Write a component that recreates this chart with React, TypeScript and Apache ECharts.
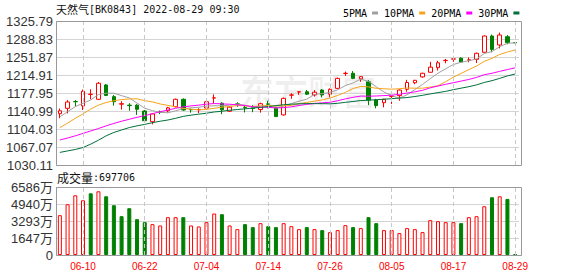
import React, { useEffect, useRef } from 'react';
import * as echarts from 'echarts';

const dates = [
  '06-07','06-08','06-09','06-10','06-13','06-14','06-15','06-16','06-17','06-20','06-21','06-22','06-23','06-24','06-27','06-28','06-29','06-30',
  '07-01','07-04','07-05','07-06','07-07','07-08','07-11','07-12','07-13','07-14','07-15','07-18','07-19','07-20','07-21','07-22','07-25','07-26','07-27','07-28','07-29',
  '08-01','08-02','08-03','08-04','08-05','08-08','08-09','08-10','08-11','08-12','08-15','08-16','08-17','08-18','08-19','08-22','08-23','08-24','08-25','08-26','08-29',
];
const tickLabels = ['06-10', '06-22', '07-04', '07-14', '07-26', '08-05', '08-17', '08-29'];

const opens = [
  1135.5, 1146.5, 1160.5, 1151.5, 1175, 1165, 1194.5, 1170.5, 1155, 1153,
  1153, 1141, 1119, 1139, 1141.5, 1150, 1165, 1144, 1143.5, 1147,
  1167.5, 1157, 1140.5, 1155.5, 1148.5, 1147, 1144, 1155.5, 1147.5, 1133,
  1173.5, 1180, 1180.5, 1174, 1184, 1175.5, 1187.5, 1218, 1218.5, 1207,
  1201, 1163.5, 1158, 1171, 1172.5, 1185.5, 1199, 1211, 1220.5, 1230,
  1244.5, 1247.5, 1249.5, 1245.5, 1247, 1261.5, 1295, 1276.5, 1293.5, 1281.5,
];
const closes = [
  1141.5, 1159.5, 1160, 1181.5, 1175.5, 1198, 1173, 1160, 1156, 1152,
  1144.5, 1121, 1135, 1138.5, 1147.5, 1165, 1143, 1143.5, 1144, 1160,
  1168, 1143.5, 1149, 1155, 1148, 1146.5, 1156, 1155, 1129.5, 1167,
  1174, 1180.5, 1175.5, 1179.5, 1174, 1185.5, 1208, 1218.5, 1208, 1211.5,
  1163.5, 1152, 1165, 1171.5, 1184, 1199.5, 1204, 1218.5, 1231, 1240,
  1245, 1248, 1241.5, 1246, 1259.5, 1295, 1267.5, 1297, 1281.5, 1281,
];
const lows = [
  1126, 1136, 1150, 1143, 1165, 1163.5, 1171.5, 1152, 1144, 1141.5,
  1133, 1119, 1113.5, 1134.5, 1138, 1148.5, 1141.5, 1137.5, 1136.5, 1144.5,
  1157, 1134.5, 1139, 1149.5, 1138, 1138.5, 1137.5, 1146.5, 1129, 1131.5,
  1166, 1174, 1174, 1170.5, 1169, 1169, 1186, 1213, 1206.5, 1201,
  1153, 1146.5, 1148.5, 1155.5, 1162, 1180.5, 1196, 1209.5, 1220, 1224,
  1239, 1242, 1240, 1241, 1239.5, 1260.5, 1261.5, 1269.5, 1278, 1280.5,
];
const highs = [
  1146, 1163.5, 1163.5, 1185, 1185.5, 1200.5, 1196.5, 1174, 1161, 1157,
  1155, 1143, 1136.5, 1142, 1149.5, 1166.5, 1167, 1146, 1146.5, 1162,
  1175, 1159, 1150.5, 1159, 1152, 1153, 1158, 1162, 1150, 1168.5,
  1177.5, 1181, 1184, 1184, 1186, 1187.5, 1209.5, 1222, 1223, 1212.5,
  1204.5, 1166, 1166, 1172.5, 1185.5, 1205, 1205, 1219.5, 1242, 1244,
  1248, 1254, 1251, 1251, 1261, 1296, 1298, 1302, 1297, 1282,
];

const ma5 = [
  1129, 1139.5, 1150, 1157, 1163.6, 1174.9, 1177.6, 1177.6, 1172.5, 1167.8,
  1157.1, 1146.7, 1141.7, 1138.2, 1137.3, 1141.4, 1145.8, 1147.5, 1148.6, 1151.1,
  1151.7, 1151.8, 1152.9, 1155.1, 1152.7, 1148.4, 1150.9, 1152.1, 1147, 1150.8,
  1156.3, 1161.2, 1165.3, 1175.3, 1176.7, 1179, 1184.5, 1193.1, 1198.8, 1206.3,
  1201.9, 1190.7, 1180, 1172.7, 1167.2, 1174.4, 1184.8, 1195.5, 1207.4, 1218.6,
  1227.7, 1236.5, 1241.1, 1244.1, 1248, 1259, 1263, 1273, 1280, 1281,
];
const ma10 = [
  1106.7, 1116, 1126, 1135, 1145, 1153, 1158.5, 1162, 1164.5, 1165.7,
  1166, 1162.2, 1159.7, 1155.4, 1152.6, 1149.3, 1146.3, 1144.6, 1143.4, 1144.2,
  1146.6, 1148.8, 1150.2, 1151.9, 1151.9, 1150.1, 1151.4, 1152.5, 1151.1, 1151.8,
  1152.4, 1156.1, 1158.7, 1161.2, 1163.8, 1167.7, 1172.9, 1179.2, 1187.1, 1191.5,
  1190.5, 1187.6, 1186.6, 1185.8, 1186.8, 1188.2, 1187.8, 1187.8, 1190.1, 1192.9,
  1201.1, 1210.7, 1218.3, 1225.8, 1233.3, 1242.9, 1249.2, 1257.1, 1262.1, 1266.2,
];
const ma20 = [
  1081.5, 1085.5, 1090, 1095, 1100, 1105, 1110.5, 1115.5, 1120, 1124,
  1128, 1131.5, 1135.5, 1139.5, 1143, 1146.5, 1149.5, 1151.5, 1153, 1155,
  1156.3, 1155.5, 1154.9, 1153.6, 1152.2, 1149.7, 1148.8, 1148.6, 1147.2, 1148,
  1149.5, 1152.4, 1154.5, 1156.5, 1157.8, 1158.9, 1162.1, 1165.9, 1169.1, 1171.6,
  1171.4, 1171.8, 1172.6, 1173.5, 1175.3, 1177.9, 1180.3, 1183.5, 1188.6, 1192.2,
  1195.8, 1199.1, 1202.4, 1205.8, 1210, 1215.5, 1218.5, 1222.4, 1226.1, 1229.6,
];
const ma30 = [
  1056, 1059, 1062, 1066, 1073, 1081, 1090, 1097, 1102, 1107,
  1110.5, 1113.5, 1117, 1120, 1122.5, 1126, 1130, 1132.5, 1134.5, 1136.5,
  1139, 1140.5, 1142.5, 1144, 1145.5, 1147, 1148.5, 1150, 1152, 1154,
  1155, 1155.7, 1156.2, 1156.1, 1156.1, 1155.7, 1156.8, 1158.8, 1160.5, 1162.5,
  1163.1, 1164.2, 1165.2, 1166.3, 1167.5, 1168.6, 1170.7, 1173.2, 1176.1, 1178.7,
  1181.3, 1184.8, 1187.9, 1190.9, 1194.6, 1199.6, 1203.3, 1208, 1213.1, 1216.9,
];

// volume in 万
const volumes = [
  3856, 4916, 5783, 5301, 5976, 6169, 5687, 4820, 3759, 4530,
  3470, 3181, 2988, 2860, 3663, 3663, 3663, 2860, 2763, 3181,
  4016, 3952, 2860, 2506, 2988, 2699, 3084, 2795, 2699, 3084,
  2795, 2506, 2699, 2506, 2410, 2217, 2410, 2892, 2699, 2603,
  3663, 3084, 2410, 2410, 2121, 2603, 2506, 2217, 3374, 3277,
  3181, 3181, 3084, 3663, 3759, 4723, 5591, 5687, 5430, 69.77,
];

const priceMin = 1030.11;
const priceMax = 1325.79;
const priceStep = 36.96;
const volMax = 6586;
const volStep = 1646.5;

const titleName = '天然气';
const titleInfo = '[BK0843] 2022-08-29 09:30';
const volTitle = '成交量';
const lastVolume = '697706';

const RED = '#ff0000';
const GREEN = '#008000';
const MA_COLORS = ['#a0a0a0', '#f5a31a', '#ff00ff', '#00703c'];
const MA_NAMES = ['5PMA', '10PMA', '20PMA', '30PMA'];

export default function App() {
  const ref = useRef<HTMLDivElement>(null);

  useEffect(() => {
    if (!ref.current) return;
    const chart = echarts.init(ref.current, undefined, { renderer: 'svg' });

    const candleData = dates.map((_, i) => [opens[i], closes[i], lows[i], highs[i]]);
    const volData = volumes.map((v, i) => {
      const prev = i > 0 ? closes[i - 1] : opens[i];
      const up = closes[i] >= prev;
      return {
        value: v,
        itemStyle: up
          ? { color: '#ffffff', borderColor: RED, borderWidth: 1 }
          : { color: GREEN, borderColor: GREEN, borderWidth: 1 },
      };
    });
    const vLines = {
      silent: true,
      symbol: ['none', 'none'],
      label: { show: false },
      lineStyle: { color: '#c8c8c8', type: [4, 3], width: 1 },
      emphasis: { disabled: true },
      data: tickLabels.map((d) => ({ xAxis: d })),
    };
    const mas = [ma5, ma10, ma20, ma30];

    const gridW = 463;
    const option: any = {
      animation: false,
      backgroundColor: '#ffffff',
      grid: [
        { left: 56, top: 21, width: gridW, height: 144 },
        { left: 56, top: 187, width: gridW, height: 68 },
      ],
      legend: {
        data: MA_NAMES,
        left: 338,
        top: 3,
        align: 'right',
        icon: 'rect',
        itemWidth: 6,
        itemHeight: 3,
        itemGap: 6,
        selectedMode: false,
        textStyle: { fontSize: 10, fontFamily: 'DejaVu Sans Mono', color: '#000' },
      },
      xAxis: [
        {
          type: 'category', gridIndex: 0, data: dates, boundaryGap: true,
          axisLine: { show: false }, axisTick: { show: false }, axisLabel: { show: false }, splitLine: { show: false },
        },
        {
          type: 'category', gridIndex: 1, data: dates, boundaryGap: true,
          axisLine: { show: false }, axisTick: { show: false }, splitLine: { show: false },
          axisLabel: {
            interval: (_: number, v: string) => tickLabels.includes(v),
            color: RED, fontSize: 10, fontFamily: 'Liberation Sans', margin: 6,
          },
        },
      ],
      yAxis: [
        {
          type: 'value', gridIndex: 0, min: priceMin, max: priceMax, interval: priceStep,
          axisLine: { show: false }, axisTick: { show: false },
          splitLine: { lineStyle: { color: '#d4d4d4', width: 1 } },
          axisLabel: {
            formatter: (v: number) => v.toFixed(2),
            fontSize: 13, fontFamily: 'Liberation Sans', color: '#333', margin: 3,
          },
        },
        {
          type: 'value', gridIndex: 1, min: 0, max: volMax, interval: volStep,
          axisLine: { show: false }, axisTick: { show: false },
          splitLine: { lineStyle: { color: '#d4d4d4', width: 1 } },
          axisLabel: {
            formatter: (v: number) => (v === 0 ? '0' : Math.round(v) + '万'),
            fontSize: 13, fontFamily: 'Liberation Sans, Noto Sans CJK SC', color: '#333', margin: 3,
          },
        },
      ],
      series: [
        {
          type: 'candlestick', name: 'K', xAxisIndex: 0, yAxisIndex: 0, data: candleData,
          barWidth: 4,
          itemStyle: { color: '#ffffff', color0: GREEN, borderColor: RED, borderColor0: GREEN, borderWidth: 1 },
          markLine: vLines,
          z: 2,
        },
        ...mas.map((d, k) => ({
          type: 'line', name: MA_NAMES[k], xAxisIndex: 0, yAxisIndex: 0, data: d,
          symbol: 'none', showSymbol: false, smooth: false,
          lineStyle: { width: 1, color: MA_COLORS[k] },
          itemStyle: { color: MA_COLORS[k] },
          z: 3,
        })),
        {
          type: 'bar', name: 'VOL', xAxisIndex: 1, yAxisIndex: 1, data: volData,
          barWidth: 4,
          markLine: vLines,
        },
      ],
      graphic: [
        {
          type: 'text', x: 240, y: 90, z: -10, silent: true,
          style: {
            text: '东方财富', fontSize: 34, fontWeight: 'bold', fontFamily: 'Noto Sans CJK SC',
            fill: 'rgba(0,0,0,0.06)', verticalAlign: 'middle', align: 'left',
          },
        },
        {
          type: 'text', x: 56, y: 9,
          style: {
            text: `{a|${titleName}}{b|${titleInfo}}`,
            verticalAlign: 'middle', align: 'left', fill: '#111',
            rich: {
              a: { fontSize: 11, fontFamily: 'Noto Sans CJK SC', fill: '#111' },
              b: { fontSize: 10, fontFamily: 'DejaVu Sans Mono', fill: '#111' },
            },
          },
        },
        {
          type: 'text', x: 57, y: 177,
          style: {
            text: `{a|${volTitle}}{b|:${lastVolume}}`,
            verticalAlign: 'middle', align: 'left', fill: '#111',
            rich: {
              a: { fontSize: 12, fontFamily: 'Noto Sans CJK SC', fill: '#111' },
              b: { fontSize: 10, fontFamily: 'DejaVu Sans Mono', fill: '#111' },
            },
          },
        },
        {
          type: 'rect', silent: true, z: 10,
          shape: { x: 56.5, y: 21.5, width: 465, height: 144 },
          style: { fill: 'none', stroke: '#999', lineWidth: 1 },
        },
        {
          type: 'rect', silent: true, z: 10,
          shape: { x: 56.5, y: 187.5, width: 465, height: 68 },
          style: { fill: 'none', stroke: '#999', lineWidth: 1 },
        },
      ],
    };

    chart.setOption(option);
    return () => chart.dispose();
  }, []);

  return (
    <div
      ref={ref}
      style={{ position: 'fixed', left: 0, top: 0, width: 578, height: 276, background: '#fff' }}
    />
  );
}
